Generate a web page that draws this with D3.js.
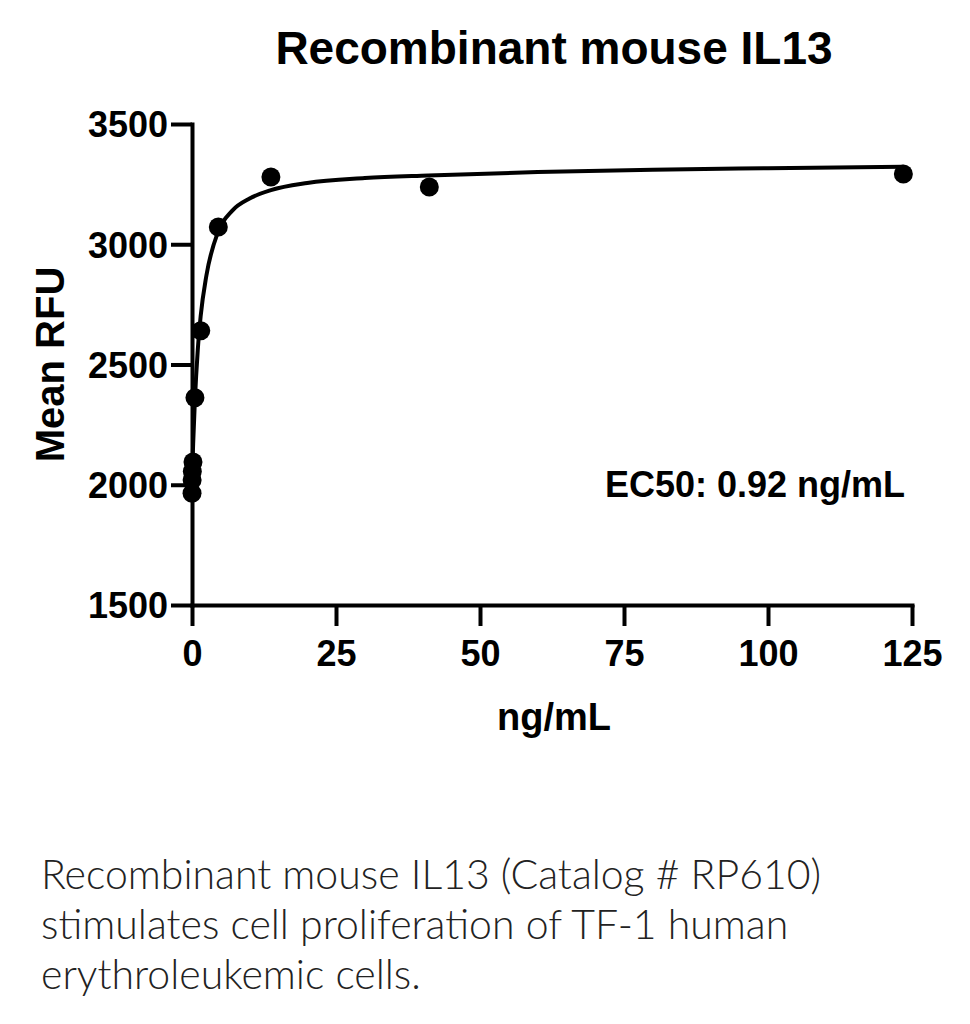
<!DOCTYPE html>
<html lang="en">
<head>
    <meta charset="UTF-8">
    <title>Recombinant mouse IL13</title>
    <script src="https://d3js.org/d3.v7.min.js"></script>
    <style>
        body {
            margin: 0;
            background: #fff;
            font-family: "Liberation Sans", Arial, sans-serif;
        }
        .caption {
            font-family: Lato, "Open Sans", sans-serif;
            font-weight: 300;
            font-size: 41px;
            fill: #222;
        }
    </style>
</head>
<body>
    <div id="chart"></div>

    <script>
        // measured points (ng/mL, Mean RFU)
        const conc = [123.5, 41.2, 13.7, 4.57, 1.52, 0.51, 0.17, 0.056, 0.019, 0.006];
        const rfu = [3292, 3238, 3280, 3072, 2640, 2362, 2095, 2055, 2020, 1965];

        // fitted curve
        const fitConc = [0.006, 0.06, 0.2, 0.5, 1.0, 1.5, 2.5, 4.5, 7, 10, 13.7, 20, 30, 41, 60, 80, 100, 123.5];
        const fitRfu = [1985, 2060, 2170, 2350, 2560, 2700, 2870, 3050, 3140, 3190, 3225, 3255, 3275, 3286, 3300, 3310, 3316, 3322];

        const xTicks = [0, 25, 50, 75, 100, 125];
        const yTicks = [1500, 2000, 2500, 3000, 3500];

        const width = 970, height = 1024;
        const margin = { top: 124, left: 192, right: 58, bottom: 419 };

        const svg = d3.select("#chart").append("svg")
            .attr("width", width)
            .attr("height", height);

        const x = d3.scaleLinear().domain([0, 125]).range([margin.left, width - margin.right]);
        const y = d3.scaleLinear().domain([1500, 3500]).range([height - margin.bottom, margin.top]);

        // title
        svg.append("text")
            .attr("x", 554).attr("y", 64)
            .attr("text-anchor", "middle")
            .attr("font-weight", "bold")
            .attr("font-size", 46)
            .text("Recombinant mouse IL13");

        // axes
        const xAxis = svg.append("g")
            .attr("transform", `translate(0,${y(1500)})`)
            .call(d3.axisBottom(x).tickValues(xTicks).tickFormat(d3.format("d"))
                .tickSize(21).tickPadding(14).tickSizeOuter(0));
        const yAxis = svg.append("g")
            .attr("transform", `translate(${x(0)},0)`)
            .call(d3.axisLeft(y).tickValues(yTicks).tickFormat(d3.format("d"))
                .tickSize(21).tickPadding(3).tickSizeOuter(0));

        [xAxis, yAxis].forEach(a => {
            a.attr("font-family", "'Liberation Sans', Arial, sans-serif")
                .attr("font-size", 36)
                .attr("font-weight", "bold");
            a.select(".domain").attr("stroke", "#000").attr("stroke-width", 4).attr("stroke-linecap", "square");
            a.selectAll(".tick line").attr("stroke", "#000").attr("stroke-width", 4);
            a.selectAll(".tick text").attr("fill", "#000");
        });
        yAxis.selectAll(".tick text").attr("dy", "0.36em");

        // axis titles
        svg.append("text")
            .attr("x", 554).attr("y", 730)
            .attr("text-anchor", "middle")
            .attr("font-weight", "bold")
            .attr("font-size", 38)
            .text("ng/mL");

        svg.append("text")
            .attr("transform", `translate(64,${(y(1500) + y(3500)) / 2}) rotate(-90)`)
            .attr("text-anchor", "middle")
            .attr("font-weight", "bold")
            .attr("font-size", 40)
            .text("Mean RFU");

        // fitted curve
        const fit = fitConc.map((c, i) => [c, fitRfu[i]]);
        svg.append("path")
            .datum(fit)
            .attr("fill", "none")
            .attr("stroke", "#000")
            .attr("stroke-width", 4)
            .attr("d", d3.line().x(d => x(d[0])).y(d => y(d[1])).curve(d3.curveMonotoneX));

        // data points
        svg.selectAll(".dot")
            .data(conc.map((c, i) => [c, rfu[i]]))
            .enter().append("circle")
            .attr("class", "dot")
            .attr("cx", d => x(d[0]))
            .attr("cy", d => y(d[1]))
            .attr("r", 9.5)
            .attr("fill", "#000");

        // EC50 note
        svg.append("text")
            .attr("x", 905).attr("y", 497)
            .attr("text-anchor", "end")
            .attr("font-weight", "bold")
            .attr("font-size", 36)
            .text("EC50: 0.92 ng/mL");

        // caption
        const caption = [
            "Recombinant mouse IL13 (Catalog # RP610)",
            "stimulates cell proliferation of TF-1 human",
            "erythroleukemic cells."
        ];
        svg.selectAll(".caption")
            .data(caption)
            .enter().append("text")
            .attr("class", "caption")
            .attr("x", 41)
            .attr("y", (d, i) => 889 + i * 50)
            .text(d => d);
    </script>
</body>
</html>
